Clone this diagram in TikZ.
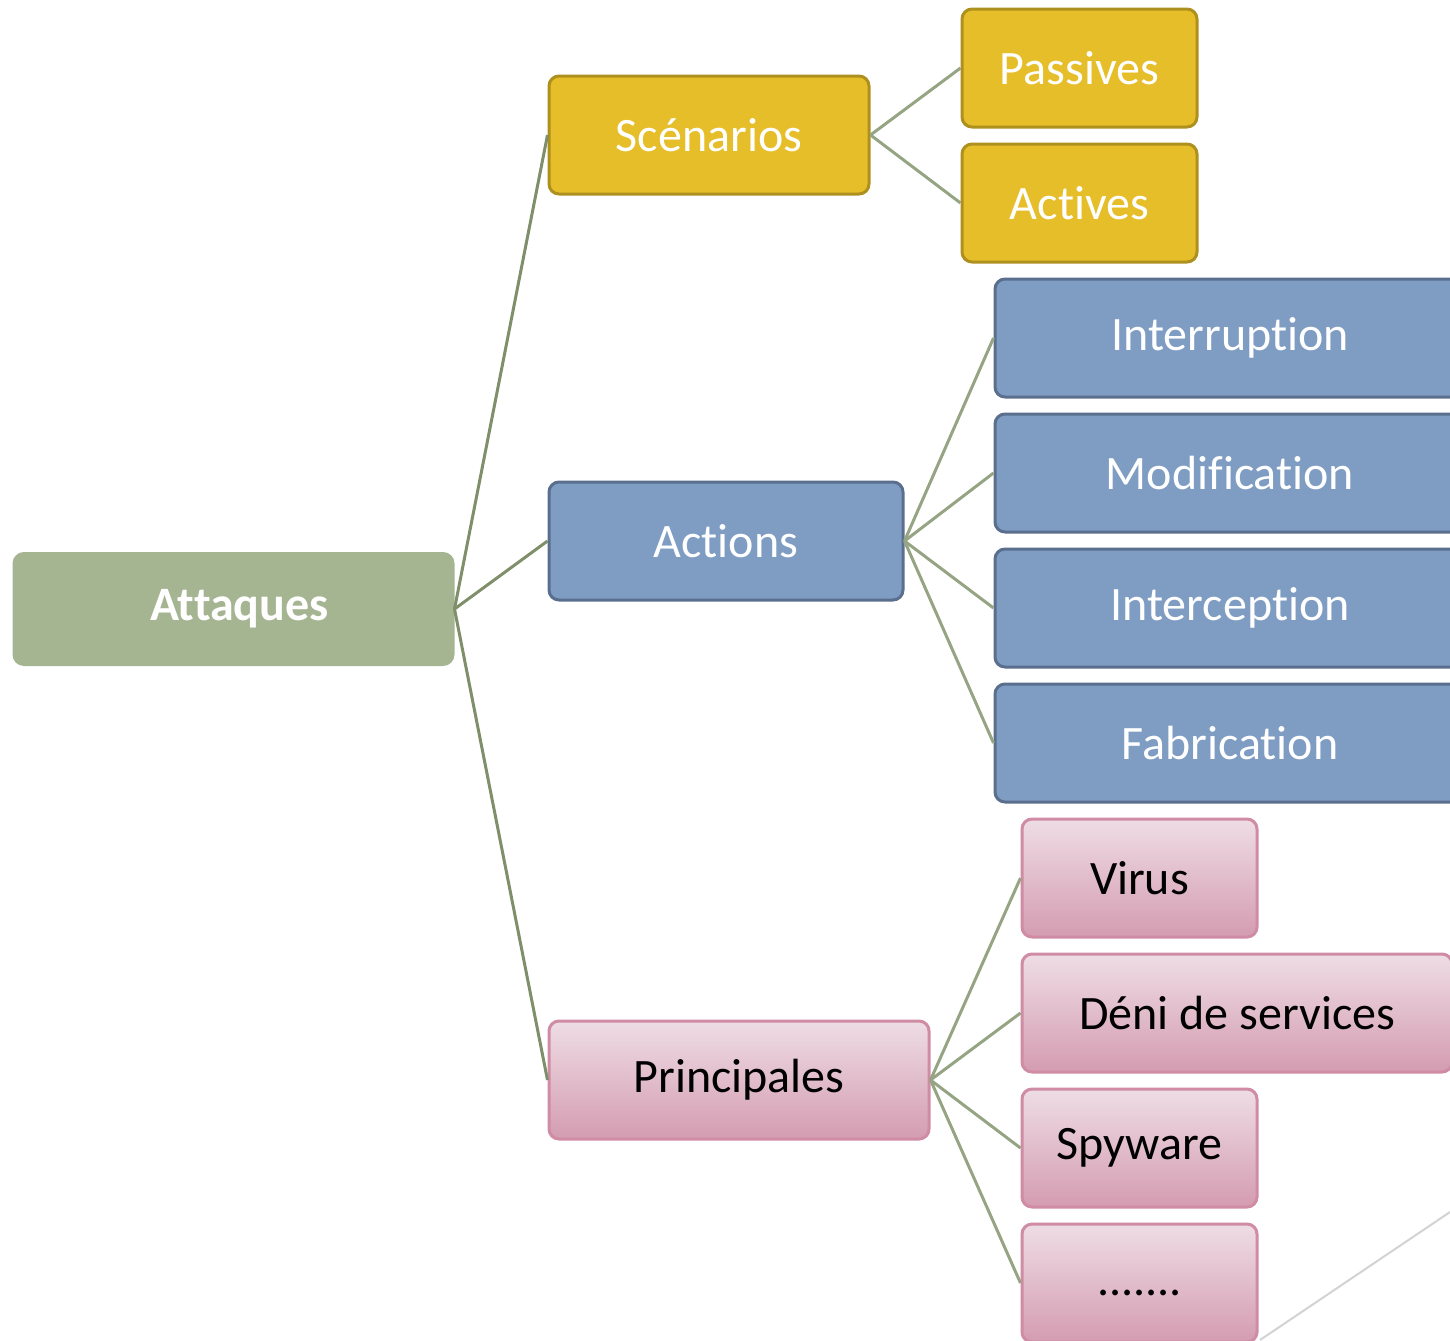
\documentclass[tikz,border=0pt]{standalone}
\usepackage{fontspec}
\setmainfont[Ligatures=NoCommon]{Carlito}
\begin{document}
\begin{tikzpicture}[x=0.5pt,y=-0.5pt,
  box/.style={rounded corners=5pt, line width=1.5pt, inner sep=0pt, align=center,
    minimum height=59pt, font=\fontsize{24}{28}\selectfont},
  rootbox/.style={box, fill=rootfill, draw=rootfill, text=white,
    minimum height=55.5pt, font=\bfseries\fontsize{24}{28}\selectfont},
  goldbox/.style={box, fill=goldfill, draw=goldline, text=white},
  bluebox/.style={box, fill=bluefill, draw=blueline, text=white},
  pinkbox/.style={box, top color=pinktop, bottom color=pinkbot, draw=pinkline, text=black},
  trunk/.style={draw=trunkline, line width=1.5pt},
  twig/.style={draw=twigline, line width=1.5pt}
]
\definecolor{rootfill}{HTML}{A5B592}
\definecolor{goldfill}{HTML}{E5BE29}
\definecolor{goldline}{HTML}{AE901F}
\definecolor{bluefill}{HTML}{7F9DC3}
\definecolor{blueline}{HTML}{5A6F8E}
\definecolor{pinktop}{HTML}{EEDDE4}
\definecolor{pinkbot}{HTML}{D49CB0}
\definecolor{pinkline}{HTML}{D08CA5}
\definecolor{trunkline}{HTML}{7F8F6A}
\definecolor{twigline}{HTML}{95A482}
\definecolor{cornerline}{HTML}{D3D3D3}

\useasboundingbox (0,0) rectangle (1450,1340);
\clip (0,0) rectangle (1450,1340);

% slide corner ornament
\coordinate (orn1) at (1260,1340);
\coordinate (orn2) at (1450,1212);
\draw[cornerline, line width=1pt] (orn1) -- (orn2);

% root
\node[rootbox, minimum width=219.5pt] (att) at (233.5,609) {\hspace*{6pt}Attaques};

% first level
\node[goldbox, minimum width=160pt] (sce) at (709,135) {Scénarios};
\node[bluebox, minimum width=177pt] (act) at (726,541) {Actions};
\node[pinkbox, minimum width=190pt] (pri) at (739,1080) {Principales};

% scenarios
\node[goldbox, minimum width=117.5pt] (pas) at (1079.5,68) {Passives};
\node[goldbox, minimum width=117.5pt] (acv) at (1079.5,203) {Actives};

% actions
\node[bluebox, minimum width=235pt] (int) at (1230,338) {Interruption};
\node[bluebox, minimum width=235pt] (mod) at (1230,473) {Modification};
\node[bluebox, minimum width=235pt] (itc) at (1230,608) {Interception};
\node[bluebox, minimum width=235pt] (fab) at (1230,743) {Fabrication};

% principal attacks
\node[pinkbox, minimum width=117.5pt] (vir) at (1139.5,878) {Virus};
\node[pinkbox, minimum width=215pt] (den) at (1237,1013) {Déni de services};
\node[pinkbox, minimum width=117.5pt] (spy) at (1139.5,1148) {Spyware};
\node[pinkbox, minimum width=117.5pt] (etc) at (1139.5,1283) {\raisebox{-6pt}[0pt][0pt]{.......}};

% connectors
\draw[trunk] (att.east) -- (sce.west);
\draw[trunk] (att.east) -- (act.west);
\draw[trunk] (att.east) -- (pri.west);
\draw[twig] (sce.east) -- (pas.west);
\draw[twig] (sce.east) -- (acv.west);
\foreach \n in {int,mod,itc,fab} \draw[twig] (act.east) -- (\n.west);
\foreach \n in {vir,den,spy,etc} \draw[twig] (pri.east) -- (\n.west);
\end{tikzpicture}
\end{document}
